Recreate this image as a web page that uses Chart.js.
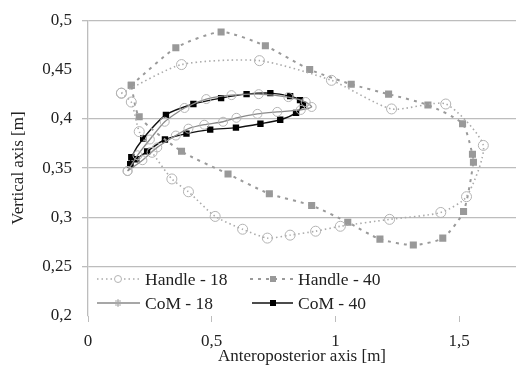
<!DOCTYPE html>
<html>
<head>
<meta charset="utf-8">
<script src="https://cdn.jsdelivr.net/npm/chart.js@4/dist/chart.umd.min.js"></script>
<style>
html,body{margin:0;padding:0;background:#fff;}
#wrap{width:522px;height:367px;position:relative;}
</style>
</head>
<body>
<div id="wrap"><canvas id="c" width="522" height="367"></canvas></div>
<script>
// ---- Data ----
const seriesNames = ["Handle - 18", "Handle - 40", "CoM - 18", "CoM - 40"];
const xTickLabels = ["0", "0,5", "1", "1,5"];
const yTickLabels = ["0,2", "0,25", "0,3", "0,35", "0,4", "0,45", "0,5"];

const handle18X = [0.135,0.378,0.693,0.984,1.227,1.446,1.598,1.53,1.426,1.219,1.02,0.92,0.817,0.725,0.625,0.514,0.406,0.339,0.259,0.207,0.175,0.135];
const handle18Y = [0.426,0.455,0.459,0.439,0.410,0.415,0.373,0.321,0.305,0.298,0.291,0.286,0.282,0.279,0.288,0.301,0.326,0.339,0.366,0.387,0.417,0.426];

const handle40X = [0.175,0.355,0.538,0.717,0.896,1.064,1.215,1.374,1.514,1.554,1.558,1.518,1.434,1.315,1.18,1.05,0.904,0.733,0.566,0.378,0.207,0.175];
const handle40Y = [0.434,0.472,0.488,0.474,0.450,0.435,0.425,0.414,0.395,0.364,0.356,0.306,0.279,0.272,0.278,0.295,0.312,0.324,0.344,0.367,0.402,0.434];

const com18X = [0.16,0.2,0.25,0.31,0.39,0.478,0.58,0.69,0.81,0.88,0.904,0.86,0.765,0.685,0.6,0.546,0.47,0.406,0.355,0.28,0.22,0.16];
const com18Y = [0.347,0.363,0.379,0.397,0.411,0.420,0.424,0.425,0.422,0.417,0.412,0.409,0.407,0.405,0.401,0.397,0.394,0.390,0.383,0.371,0.358,0.347];

const com40X = [0.171,0.175,0.223,0.315,0.426,0.538,0.641,0.737,0.817,0.857,0.869,0.841,0.777,0.697,0.598,0.494,0.398,0.311,0.239,0.195,0.171];
const com40Y = [0.354,0.361,0.380,0.404,0.415,0.421,0.425,0.426,0.423,0.419,0.414,0.406,0.399,0.395,0.391,0.389,0.385,0.379,0.367,0.359,0.354];

// ---- build ----
function pts(xs, ys){ return xs.map((x,i)=>({x:x, y:ys[i]})); }
const FONT = "'Liberation Serif', 'Times New Roman', serif";
const GRID = '#bdbdbd';

const styles = [
  {color:'#ababab', dash:[1.5,3], width:1.6, point:'circle', r:5, fill:'rgba(255,255,255,0)', pb:'#b3b3b3', pw:1},
  {color:'#9a9a9a', dash:[3,5], width:2, point:'rect', r:5, fill:'#999', pb:'#999', pw:0},
  {color:'#8a8a8a', dash:[], width:1.3, point:'circle', r:4.5, fill:'rgba(255,255,255,0)', pb:'#b5b5b5', pw:1},
  {color:'#111', dash:[], width:1.4, point:'rect', r:4.5, fill:'#000', pb:'#000', pw:0}
];
const allData = [pts(handle18X,handle18Y), pts(handle40X,handle40Y), pts(com18X,com18Y), pts(com40X,com40Y)];

const datasets = allData.map((d,i)=>({
  label: seriesNames[i],
  data: d,
  showLine: true,
  tension: 0.22,
  borderColor: styles[i].color,
  borderWidth: styles[i].width,
  borderDash: styles[i].dash,
  pointStyle: styles[i].point,
  pointRadius: styles[i].r,
  pointBackgroundColor: styles[i].fill,
  pointBorderColor: styles[i].pb,
  pointBorderWidth: styles[i].pw,
  fill: false
}));

const legendPlugin = {
  id: 'customLegend',
  afterDraw(chart){
    const ctx = chart.ctx;
    ctx.save();
    const items = [
      {i:0, x0:97, x1:140, mx:118, y:279, tx:145},
      {i:1, x0:250, x1:295, mx:273, y:279, tx:298},
      {i:2, x0:97, x1:140, mx:118, y:303, tx:145},
      {i:3, x0:252, x1:293, mx:273, y:303, tx:298}
    ];
    items.forEach(it=>{
      const s = styles[it.i];
      ctx.strokeStyle = s.color;
      ctx.lineWidth = s.width;
      ctx.setLineDash(s.dash);
      ctx.beginPath(); ctx.moveTo(it.x0, it.y); ctx.lineTo(it.x1, it.y); ctx.stroke();
      ctx.setLineDash([]);
      if (it.i === 0){
        ctx.fillStyle='#fff'; ctx.strokeStyle='#b3b3b3'; ctx.lineWidth=1;
        ctx.beginPath(); ctx.arc(it.mx,it.y,3.5,0,Math.PI*2); ctx.fill(); ctx.stroke();
      } else if (it.i === 1){
        ctx.fillStyle='#999'; ctx.fillRect(it.mx-3,it.y-3,6,6);
      } else if (it.i === 2){
        ctx.strokeStyle='#aaa'; ctx.lineWidth=1;
        ctx.beginPath(); ctx.moveTo(it.mx,it.y-4); ctx.lineTo(it.mx,it.y+4);
        ctx.moveTo(it.mx-3,it.y-2); ctx.lineTo(it.mx+3,it.y-2);
        ctx.moveTo(it.mx-3,it.y+2); ctx.lineTo(it.mx+3,it.y+2); ctx.stroke();
      } else {
        ctx.fillStyle='#000'; ctx.fillRect(it.mx-3,it.y-3,6,6);
      }
      ctx.fillStyle='#222';
      ctx.font = '17.5px ' + FONT;
      ctx.textBaseline='middle';
      ctx.textAlign='left';
      ctx.fillText(seriesNames[it.i], it.tx, it.y+1);
    });
    ctx.restore();
  }
};

function yLabel(v){
  const idx = Math.round((v-0.2)/0.05);
  return yTickLabels[idx] !== undefined ? yTickLabels[idx] : '';
}
function xLabel(v){
  const idx = Math.round(v/0.5);
  return xTickLabels[idx] !== undefined ? xTickLabels[idx] : '';
}
function near(a,b){ return Math.abs(a-b) < 1e-6; }

new Chart(document.getElementById('c'), {
  type: 'scatter',
  data: { datasets: datasets },
  plugins: [legendPlugin],
  options: {
    responsive: false,
    animation: false,
    devicePixelRatio: 1,
    layout: { padding: { top: 17, right: 0, left: 0, bottom: 0 } },
    plugins: { legend: { display: false }, tooltip: { enabled: false } },
    scales: {
      x: {
        type: 'linear',
        min: 0, max: 1.73,
        afterFit(scale){ scale.height = 51; },
        ticks: { stepSize: 0.5, includeBounds: false, autoSkip: false, maxRotation: 0,
          padding: 9, color: '#222', font: { family: FONT, size: 17 },
          callback: (v)=> xLabel(v) },
        grid: { drawOnChartArea: false, drawTicks: true, tickLength: 6, color: GRID, lineWidth: 1 },
        border: { display: false },
        title: { display: true, text: 'Anteroposterior axis [m]', color: '#222',
          font: { family: FONT, size: 17 }, padding: { top: 0, bottom: 0 } }
      },
      y: {
        type: 'linear',
        min: 0.2, max: 0.5,
        afterFit(scale){ scale.width = 88; },
        ticks: { stepSize: 0.05, padding: 10, color: '#222', font: { family: FONT, size: 17 },
          callback: (v)=> yLabel(v) },
        grid: {
          drawTicks: true, tickLength: 6, lineWidth: 1.3,
          color: (c)=> (c.tick && (near(c.tick.value,0.45) || near(c.tick.value,0.2))) ? 'rgba(0,0,0,0)' : GRID
        },
        border: { display: true, color: GRID, width: 1.3 },
        title: { display: true, text: 'Vertical axis [m]', color: '#222',
          font: { family: FONT, size: 17 }, padding: { top: 8, bottom: 0 } }
      }
    }
  }
});
</script>
</body>
</html>
